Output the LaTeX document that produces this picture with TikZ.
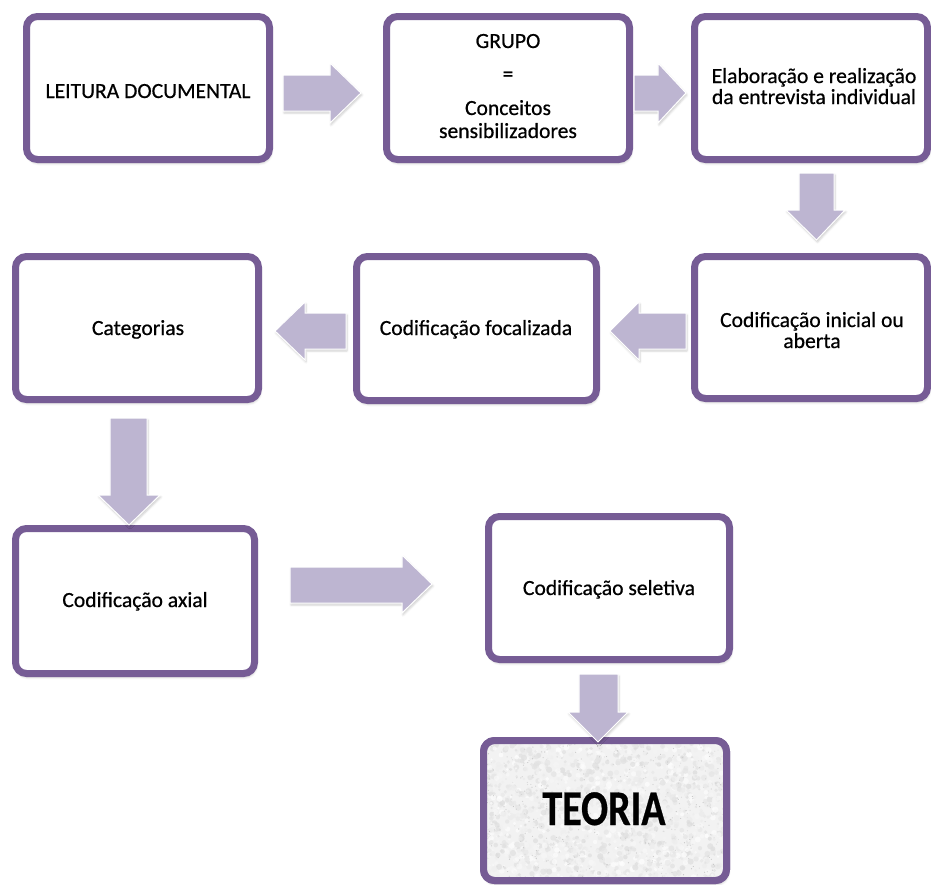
\documentclass[tikz,border=0pt]{standalone}
\usepackage{fontspec}
\usepackage{graphicx}
\setmainfont{Carlito}[FakeBold=0.6]
\usetikzlibrary{shadows.blur}

\definecolor{boxline}{RGB}{118,92,149}
\definecolor{arrowfill}{RGB}{189,181,209}

\begin{document}
\begin{tikzpicture}[x=1pt,y=-1pt,
  stage/.style={draw=boxline, line width=7pt, rounded corners=11pt, fill=white,
    inner sep=0pt, outer sep=0pt,
    blur shadow={shadow xshift=1pt, shadow yshift=-3pt, shadow blur radius=3pt, shadow opacity=35}},
  blockarrow/.style={fill=arrowfill, draw=white, line width=1pt, line join=miter,
    blur shadow={shadow xshift=1pt, shadow yshift=-2pt, shadow blur radius=2pt, shadow opacity=20}},
  lbl/.style={font=\fontsize{21.6}{21.6}\selectfont, anchor=base, inner sep=0pt, align=center}]

\useasboundingbox (0,0) rectangle (931,884);

% stage boxes
\node[stage, minimum width=243pt, minimum height=143pt] (b1) at (148,88) {};
\node[stage, minimum width=243pt, minimum height=143pt] (b2) at (508,88) {};
\node[stage, minimum width=233pt, minimum height=143pt] (b3) at (811,88) {};
\node[stage, minimum width=233pt, minimum height=142pt] (b4) at (811,327.5) {};
\node[stage, minimum width=240pt, minimum height=144pt] (b5) at (476.5,328.5) {};
\node[stage, minimum width=243pt, minimum height=143pt] (b6) at (137,328) {};
\node[stage, minimum width=239pt, minimum height=145pt] (b7) at (135,601) {};
\node[stage, minimum width=241pt, minimum height=143pt] (b8) at (609,588) {};
\node[stage, minimum width=243pt, minimum height=140pt] (b9) at (605,810.5) {};

% granite texture inside the final box
\begin{scope}
  \clip[rounded corners=8pt] ([xshift=3.5pt,yshift=-3.5pt]b9.north west) rectangle ([xshift=-3.5pt,yshift=3.5pt]b9.south east);
  \fill[black!5] (b9.north west) rectangle (b9.south east);
  \pgfmathsetseed{42}
  \foreach \k in {1,...,1800}{
    \pgfmathsetmacro\px{480+253*rnd}
    \pgfmathsetmacro\py{737+147*rnd}
    \pgfmathsetmacro\g{14*rnd}
    \pgfmathsetmacro\rr{1.2+2.0*rnd}
    \fill[black!\g, opacity=0.7] (\px,\py) circle[radius=\rr];
  }
  \foreach \k in {1,...,500}{
    \pgfmathsetmacro\px{480+253*rnd}
    \pgfmathsetmacro\py{737+147*rnd}
    \pgfmathsetmacro\g{10+14*rnd}
    \fill[black!\g] (\px,\py) circle[radius=0.6];
  }
\end{scope}
\draw[boxline, line width=7pt, rounded corners=11pt] (b9.north west) rectangle (b9.south east);

% block arrows between the stages
\path[blockarrow] (283,75) -- (330,75) -- (330,63) -- (361,93) -- (330,123) -- (330,111) -- (283,111) -- cycle;
\path[blockarrow] (634,75) -- (658,75) -- (658,63) -- (686,93) -- (658,123) -- (658,111) -- (634,111) -- cycle;
\path[blockarrow] (799,173) -- (834,173) -- (834,210) -- (845,210) -- (816.5,240) -- (786,210) -- (799,210) -- cycle;
\path[blockarrow] (686,313) -- (639,313) -- (639,302) -- (610,331) -- (639,360) -- (639,349) -- (686,349) -- cycle;
\path[blockarrow] (346,313) -- (305,313) -- (305,302) -- (275,331) -- (305,360) -- (305,349) -- (346,349) -- cycle;
\path[blockarrow] (110,418) -- (147,418) -- (147,495) -- (160,495) -- (129,525) -- (98,495) -- (110,495) -- cycle;
\path[blockarrow] (290,567) -- (402,567) -- (402,555) -- (432,584) -- (402,613) -- (402,603) -- (290,603) -- cycle;
\path[blockarrow] (579,674) -- (618,674) -- (618,712) -- (628,712) -- (598,742) -- (568,712) -- (579,712) -- cycle;

% labels
\node[lbl] (t1) at (148,98) {LEITURA DOCUMENTAL};
\node[lbl] (t2a) at (508,48) {GRUPO};
\node[lbl] (t2b) at (508,81) {=};
\node[lbl] (t2c) at (508,115) {Conceitos};
\node[lbl] (t2d) at (508,138) {sensibilizadores};
\node[lbl] (t3a) at (814,83) {Elaboração e realização};
\node[lbl] (t3b) at (814,104) {da entrevista individual};
\node[lbl] (t4a) at (812,327) {Codificação inicial ou};
\node[lbl] (t4b) at (812,348) {aberta};
\node[lbl] (t5) at (476,335) {Codificação focalizada};
\node[lbl] (t6) at (138,335) {Categorias};
\node[lbl] (t7) at (135,607) {Codificação axial};
\node[lbl] (t8) at (609,595) {Codificação seletiva};
\node[anchor=base, inner sep=0pt] (t9) at (604,825) {\scalebox{0.8}[1]{\fontsize{50}{50}\selectfont\bfseries TEORIA}};
\end{tikzpicture}
\end{document}
